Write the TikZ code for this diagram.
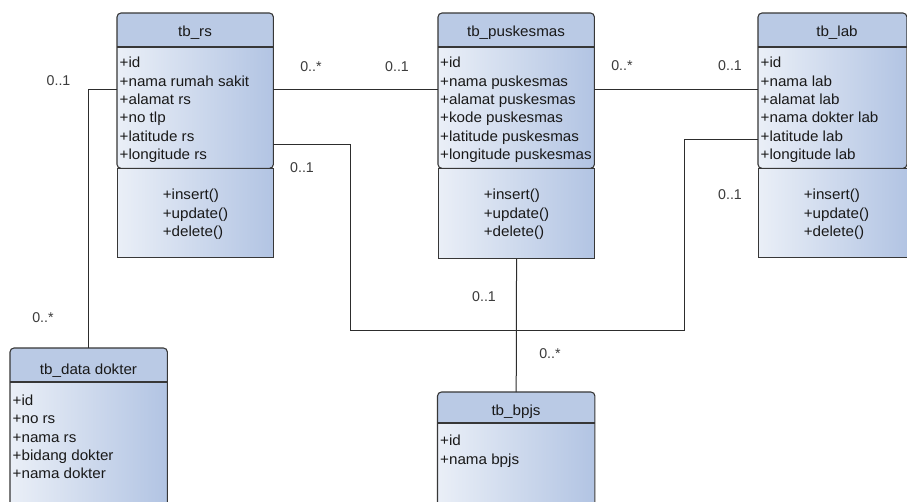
\documentclass[tikz,border=0pt]{standalone}
\usepackage{fontspec}
\setmainfont{Liberation Sans}
\newfontfamily\clsfam[FakeStretch=1.04]{Liberation Sans}
\usetikzlibrary{calc}
\definecolor{hdr}{RGB}{186,202,229}
\definecolor{bodyL}{RGB}{234,239,247}
\definecolor{bodyR}{RGB}{178,196,227}
\definecolor{edge}{RGB}{55,55,55}
\definecolor{txt}{RGB}{25,25,25}
\definecolor{lbl}{RGB}{60,60,60}
\definecolor{wire}{RGB}{45,45,45}
\newcommand\clsfont{\clsfam\fontsize{14.6}{18.4}\selectfont}
\newcommand\multfont{\fontsize{14.2}{16}\selectfont}
\newcommand\fl{\rule{0pt}{11pt}}
% #1 name, #2 x left, #3 width, #4 y top, #5 header height, #6 attr bottom, #7 method bottom (0 = none)
\newcommand\umlframe[7]{%
  \ifdim #7pt>0pt
    \node[methbox, minimum width=#3, minimum height=#7-#6] (#1-m) at (#2,#6) {};
  \fi
  \node[attrbox, minimum width=#3, minimum height=#6-#4] (#1) at (#2,#4) {};
  \begin{scope}
    \clip[rounded corners=4] (#1.north west) rectangle (#1.south east);
    \fill[hdr] (#2,#4) rectangle ++(#3,#5);
  \end{scope}
  \draw[boxline, rounded corners=4] (#1.north west) rectangle (#1.south east);
  \draw[boxline] ([yshift=-#5]#1.north west) -- ([yshift=-#5]#1.north east);
}
\begin{document}
\begin{tikzpicture}[x=1pt,y=-1pt,
  boxline/.style={draw=edge, line width=1.1pt},
  attrbox/.style={rounded corners=4, left color=bodyL, right color=bodyR, inner sep=0, anchor=north west},
  methbox/.style={draw=edge, line width=1.1pt, left color=bodyL, right color=bodyR, inner sep=0, anchor=north west},
  ttl/.style={font=\clsfont, text=txt, inner sep=0, anchor=base},
  attrs/.style={font=\clsfont, text=txt, align=left, inner sep=0, anchor=north west},
  meths/.style={font=\clsfont, text=txt, align=left, inner sep=0, anchor=north},
  mult/.style={font=\multfont, text=lbl, inner sep=0},
  conn/.style={draw=wire, line width=1pt}]
\useasboundingbox (0,0) rectangle (907,502);
\clip (0,0) rectangle (907,502);
\fill[white] (0,0) rectangle (907,502);

\coordinate (j) at (516,331);

% class frames
\umlframe{rs}{117}{156}{13}{34}{168}{257}
\umlframe{pk}{438}{156}{13}{34}{168}{258}
\umlframe{lab}{758}{148.5}{13}{34}{168}{257}
\umlframe{dd}{10}{157}{348}{34}{530}{0}
\umlframe{bp}{437.5}{157}{392}{31}{530}{0}

% tb_rs
\node[ttl] (rs-t) at (195,37) {tb\_rs};
\node[attrs] (rs-a) at (119.5,56.5) {\fl+id\\+nama rumah sakit\\+alamat rs\\+no tlp\\+latitude rs\\+longitude rs};
\node[meths] (rs-o) at (195.5,188.5) {\fl+insert()\\+update()\\+delete()};

% tb_puskesmas
\node[ttl] (pk-t) at (516,37) {tb\_puskesmas};
\node[attrs] (pk-a) at (440,56.5) {\fl+id\\+nama puskesmas\\+alamat puskesmas\\+kode puskesmas\\+latitude puskesmas\\+longitude puskesmas};
\node[meths] (pk-o) at (516.5,188.5) {\fl+insert()\\+update()\\+delete()};

% tb_lab
\node[ttl] (lab-t) at (837,37) {tb\_lab};
\node[attrs] (lab-a) at (760.5,56.5) {\fl+id\\+nama lab\\+alamat lab\\+nama dokter lab\\+latitude lab\\+longitude lab};
\node[meths] (lab-o) at (836.5,188.5) {\fl+insert()\\+update()\\+delete()};

% tb_data dokter
\node[ttl] (dd-t) at (88.5,374) {tb\_data dokter};
\node[attrs] (dd-a) at (12.5,394) {\fl+id\\+no rs\\+nama rs\\+bidang dokter\\+nama dokter};

% tb_bpjs
\node[ttl] (bp-t) at (516,415.5) {tb\_bpjs};
\node[attrs] (bp-a) at (440,434.5) {\fl+id\\+nama bpjs};

% connectors
\draw[conn] ([yshift=-77]rs.north west) -| (dd.north);
\draw[conn] ([yshift=-77]rs.north east) -- ([yshift=-77]pk.north west);
\draw[conn] ([yshift=-77]pk.north east) -- ([yshift=-77]lab.north west);
\draw[conn] ([yshift=-132]rs.north east) -- ++(77,0) |- (j);
\draw[conn] ([yshift=-127]lab.north west) -- ++(-74,0) |- (j);
\draw[conn] (pk-m.south) -- (bp.north);

% multiplicities
\node[mult] (m1) at (58.5,80.5) {0..1};
\node[mult] (m2) at (43,318) {0..*};
\node[mult] (m3) at (311,67) {0..*};
\node[mult] (m4) at (397,67) {0..1};
\node[mult] (m5) at (302,168) {0..1};
\node[mult] (m6) at (622,66) {0..*};
\node[mult] (m7) at (730,66) {0..1};
\node[mult] (m8) at (730,195) {0..1};
\node[mult] (m9) at (484,297) {0..1};
\node[mult] (m10) at (550,354) {0..*};
\end{tikzpicture}
\end{document}
